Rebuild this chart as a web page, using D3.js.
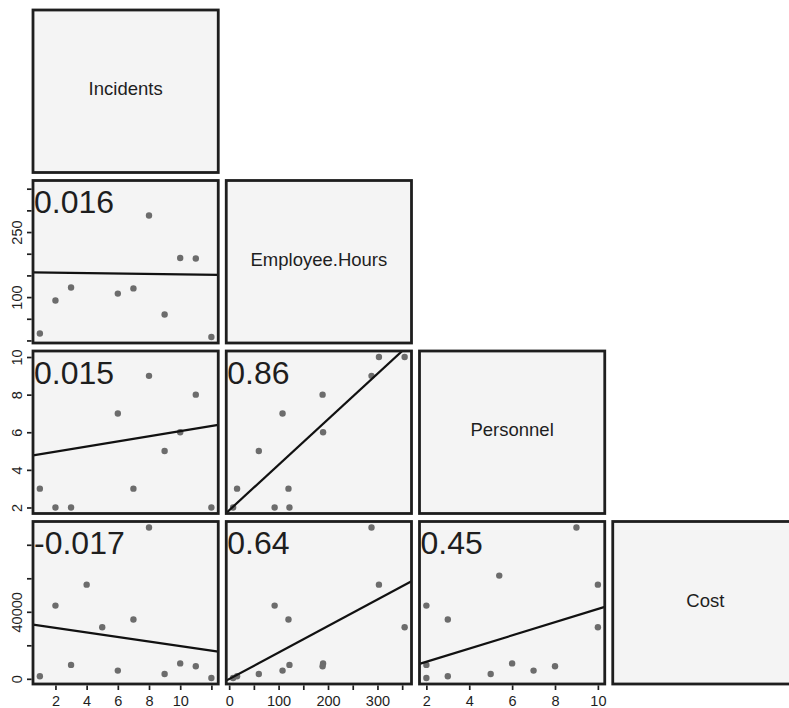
<!DOCTYPE html>
<html>
<head>
<meta charset="utf-8">
<script src="https://cdn.jsdelivr.net/npm/d3@7"></script>
<style>
  body { margin: 0; background: #fff; }
  svg { display: block; font-family: "Liberation Sans", Arial, Helvetica, sans-serif; }
</style>
</head>
<body>
<svg id="chart" width="789" height="708"></svg>
<script>
// Variables shown along the diagonal of the scatterplot matrix
const variableNames = ["Incidents", "Employee.Hours", "Personnel", "Cost"];

// One entry per observation; null marks a missing value
const incidents     = [1, 2, 3, 4, 5, 6, 7, 8, 9, 10, 11, 12, null];
const employeeHours = [16, 92, 122, 303, 355, 108, 120, 288, 60, 190, 189, 8, null];
const personnel     = [3, 2, 2, 10, 10, 7, 3, 9, 5, 6, 8, 2, 5.4];
const cost          = [1500, 43700, 8300, 56200, 30800, 4900, 35400, 90300, 2900, 9200, 7500, 500, 61600];

// Statistic printed in each lower panel, read row by row
const panelStats = ["0.016", "0.015", "0.86", "-0.017", "0.64", "0.45"];

// Tick positions and the subset of them that carry a label
const incidentsTicks = [2, 4, 6, 8, 10, 12];
const incidentsLabels = [2, 4, 6, 8, 10];
const hoursTicks = [0, 50, 100, 150, 200, 250, 300, 350];
const hoursBottomLabels = [0, 100, 200, 300];
const hoursLeftLabels = [100, 250];
const personnelTicks = [2, 4, 6, 8, 10];
const personnelLabels = [2, 4, 6, 8, 10];
const costTicks = [0, 20000, 40000, 60000, 80000];
const costLabels = [0, 40000];

const columns = [incidents, employeeHours, personnel, cost];
const axisTicks = [incidentsTicks, hoursTicks, personnelTicks, costTicks];
const bottomLabels = [incidentsLabels, hoursBottomLabels, personnelLabels, costLabels];
const leftLabels = [incidentsLabels, hoursLeftLabels, personnelLabels, costLabels];

// Layout of the 4 x 4 grid
const gridLeft = 33, gridTop = 10, gap = 8, cw = 185.25, ch = 162.5;
const colX = k => gridLeft + k * (cw + gap);
const rowY = k => gridTop + k * (ch + gap);

const panelFill = "#f4f4f4";
const ink = "#1e1e1e";
const tickFont = "Liberation Sans, Arial, Helvetica, sans-serif";

const svg = d3.select("#chart");
const defs = svg.append("defs");

// Each variable's range padded by 4% on both sides
function paddedDomain(values) {
  const [a, b] = d3.extent(values.filter(v => v != null));
  const p = (b - a) * 0.04;
  return [a - p, b + p];
}
const xScales = columns.map((v, k) => d3.scaleLinear().domain(paddedDomain(v)).range([colX(k), colX(k) + cw]));
const yScales = columns.map((v, k) => d3.scaleLinear().domain(paddedDomain(v)).range([rowY(k) + ch, rowY(k)]));

// Observations with every variable present feed the fitted lines
const completeRows = d3.range(incidents.length).filter(r => columns.every(c => c[r] != null));

function leastSquares(xs, ys) {
  const mx = d3.mean(xs), my = d3.mean(ys);
  let sxy = 0, sxx = 0;
  xs.forEach((v, i) => { sxy += (v - mx) * (ys[i] - my); sxx += (v - mx) * (v - mx); });
  const slope = sxy / sxx;
  return { intercept: my - slope * mx, slope };
}

let statIndex = 0;
for (let i = 0; i < 4; i++) {
  for (let j = 0; j <= i; j++) {
    const x0 = colX(j), y0 = rowY(i);
    const g = svg.append("g");
    const clipId = `clip-${i}-${j}`;
    defs.append("clipPath").attr("id", clipId)
      .append("rect").attr("x", x0).attr("y", y0).attr("width", cw).attr("height", ch);

    g.append("rect").attr("x", x0).attr("y", y0).attr("width", cw).attr("height", ch)
      .attr("fill", panelFill);

    if (i === j) {
      g.append("text")
        .attr("x", x0 + cw / 2).attr("y", y0 + ch / 2 + 4)
        .attr("text-anchor", "middle")
        .attr("font-size", 18.5).attr("fill", ink)
        .text(variableNames[i]);
    } else {
      const xs = xScales[j], ys = yScales[i];
      const xv = columns[j], yv = columns[i];
      const inner = g.append("g").attr("clip-path", `url(#${clipId})`);

      const pts = d3.range(xv.length).filter(r => xv[r] != null && yv[r] != null);
      inner.selectAll("circle").data(pts).join("circle")
        .attr("cx", r => xs(xv[r])).attr("cy", r => ys(yv[r]))
        .attr("r", 3.2).attr("fill", "#6c6c6c");

      const fit = leastSquares(completeRows.map(r => xv[r]), completeRows.map(r => yv[r]));
      const [d0, d1] = xs.domain();
      inner.append("line")
        .attr("x1", xs(d0)).attr("y1", ys(fit.intercept + fit.slope * d0))
        .attr("x2", xs(d1)).attr("y2", ys(fit.intercept + fit.slope * d1))
        .attr("stroke", "#111").attr("stroke-width", 2.2);

      // statistic in the top-left corner on its own background patch
      const label = inner.append("text")
        .attr("x", x0 + 1).attr("y", y0 + 32.5)
        .attr("font-size", 32).attr("fill", ink)
        .text(panelStats[statIndex++]);
      const bb = label.node().getBBox();
      inner.insert("rect", "text")
        .attr("x", bb.x).attr("y", y0).attr("width", bb.width + 2).attr("height", bb.y + bb.height - y0)
        .attr("fill", panelFill);
    }

    g.append("rect").attr("x", x0).attr("y", y0).attr("width", cw).attr("height", ch)
      .attr("fill", "none").attr("stroke", ink).attr("stroke-width", 2.8);
  }
}

// Left axes for rows 2-4
for (let i = 1; i < 4; i++) {
  const ax = svg.append("g").attr("transform", `translate(${colX(0)},0)`)
    .call(d3.axisLeft(yScales[i]).tickValues(axisTicks[i]).tickSize(6)
      .tickFormat(d => leftLabels[i].includes(d) ? d : ""));
  ax.select(".domain").remove();
  ax.selectAll(".tick line").attr("stroke", ink).attr("stroke-width", 1.7).attr("x1", -1.4);
  ax.selectAll(".tick text")
    .attr("transform", "rotate(-90)")
    .attr("x", 0).attr("y", -11).attr("dy", 0)
    .attr("text-anchor", "middle")
    .attr("font-size", 14.5).attr("fill", ink)
    .style("font-family", tickFont);
}

// Bottom axes for columns 1-3
for (let j = 0; j < 3; j++) {
  const ax = svg.append("g").attr("transform", `translate(0,${rowY(3) + ch})`)
    .call(d3.axisBottom(xScales[j]).tickValues(axisTicks[j]).tickSize(6)
      .tickFormat(d => bottomLabels[j].includes(d) ? d : ""));
  ax.select(".domain").remove();
  ax.selectAll(".tick line").attr("stroke", ink).attr("stroke-width", 1.7).attr("y1", 1.4);
  ax.selectAll(".tick text")
    .attr("y", 21.5).attr("dy", 0)
    .attr("font-size", 14.5).attr("fill", ink)
    .style("font-family", tickFont);
}
</script>
</body>
</html>
